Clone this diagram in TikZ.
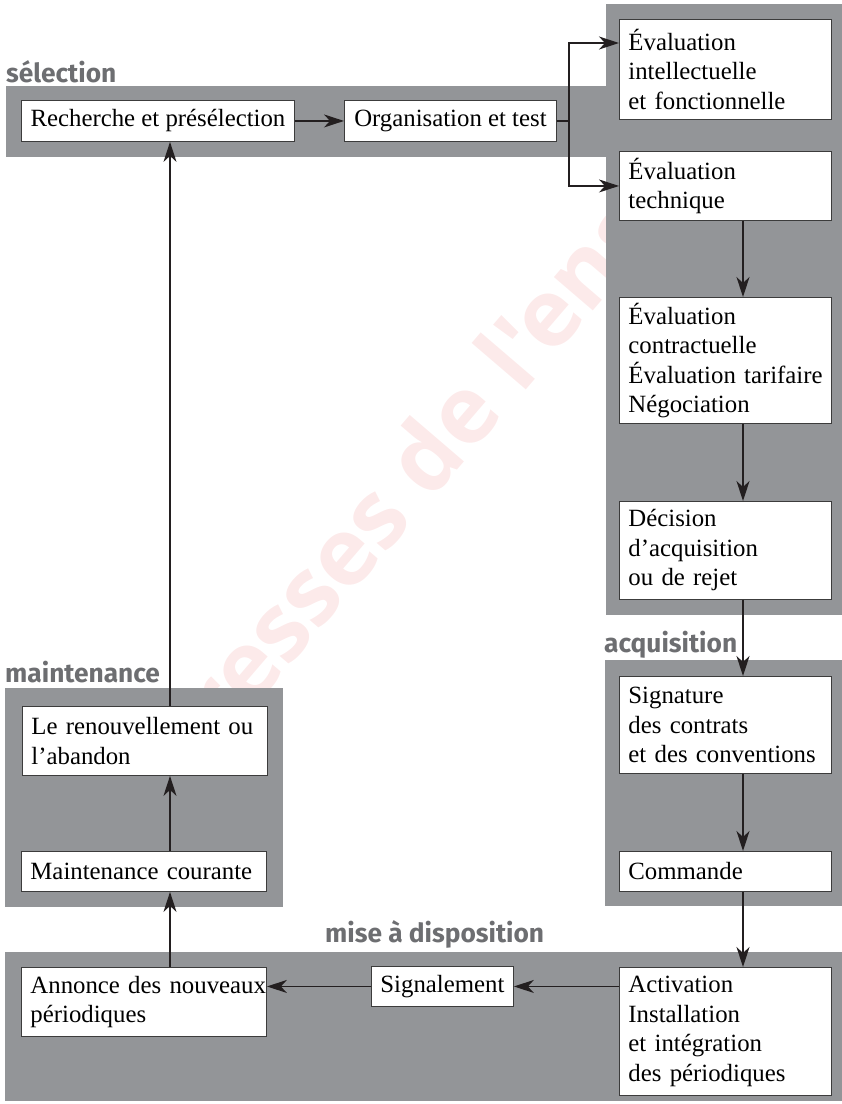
\documentclass[tikz,border=0pt]{standalone}
\usepackage{fontspec}
\setmainfont{Liberation Serif}
\newfontfamily\labelfont{Fira Sans}
\newfontfamily\wmfont{Open Sans}
\usetikzlibrary{arrows.meta}
\definecolor{bandgray}{RGB}{147,149,152}
\definecolor{labgray}{RGB}{109,110,113}
\definecolor{lineblk}{RGB}{35,31,32}
\definecolor{boxline}{RGB}{60,60,60}
\definecolor{wmpink}{RGB}{252,234,234}
\newcommand\oneline[1]{\mbox{#1}}
\tikzset{
  bx/.style={draw=boxline, fill=white, line width=0.9pt, inner xsep=9pt, inner ysep=0pt,
    anchor=north west, align=left, font=\fontsize{24.8}{29.5}\selectfont},
  wide/.style={text width=194pt, minimum width=212pt},
  wideleft/.style={text width=227pt, minimum width=245pt},
  lab/.style={anchor=base west, inner sep=0pt, text=labgray,
    font=\labelfont\bfseries\fontsize{26.3}{27}\selectfont},
  zone/.style={fill=bandgray, draw=none},
  arr/.style={draw=lineblk, line width=1.3pt, -{Stealth[length=20pt, width=13pt, inset=6pt]}},
}
\begin{document}
\begin{tikzpicture}[x=1pt,y=-1pt]
\useasboundingbox (0,0) rectangle (842,1104);
% watermark
\node[rotate=49.4, text=wmpink, inner sep=0pt,
  font=\wmfont\bfseries\fontsize{94}{94}\selectfont] (wm) at (440,436) {Presses de l'enssib};
% gray zones
\fill[zone] (6,86) rectangle (620,157);
\fill[zone] (606,4) rectangle (842,615);
\fill[zone] (605,660) rectangle (842,906);
\fill[zone] (5,688) rectangle (283,907);
\fill[zone] (5,952) rectangle (842,1101);
% labels
\node[lab] (lsel) at (6,82) {sélection};
\node[lab] (lmain) at (5,682) {maintenance};
\node[lab] (lacq) at (604,652) {acquisition};
\node[lab] (lmise) at (325,942) {mise à disposition};
% boxes
\node[bx, minimum width=273pt, minimum height=41pt] (rech) at (21,100) {Recherche et présélection};
\node[bx, minimum width=212pt, minimum height=41pt] (org) at (344,100) {Organisation et test};
\node[bx, wide, minimum height=100pt] (ev1) at (619,19) {Évaluation\\intellectuelle\\et fonctionnelle};
\node[bx, wide, minimum height=69pt] (ev2) at (619,151) {Évaluation\\technique};
\node[bx, wide, minimum height=126pt] (ev3) at (619,297) {Évaluation\\contractuelle\\\oneline{Évaluation tarifaire}\\Négociation};
\node[bx, wide, minimum height=98pt] (dec) at (619,501) {Décision\\d’acquisition\\ou de rejet};
\node[bx, wide, minimum height=97pt] (sig) at (619,676) {Signature\\des contrats\\\oneline{et des conventions}};
\node[bx, wide, minimum height=40pt] (cmd) at (619,851) {Commande};
\node[bx, wide, minimum height=128pt] (act) at (619,967) {Activation\\Installation\\et intégration\\des périodiques};
\node[bx, minimum width=137pt, minimum height=40pt] (sgn) at (371,966) {Signalement};
\node[bx, wideleft, minimum height=69pt] (ann) at (21,967) {\oneline{Annonce des nouveaux}\\périodiques};
\node[bx, wideleft, minimum height=40pt] (mc) at (21,851) {\oneline{Maintenance courante}};
\node[bx, wideleft, minimum height=69pt] (ren) at (22,706) {\oneline{Le renouvellement ou}\\l’abandon};
% helper coordinates
\coordinate (cx) at (743,0);
\coordinate (lx) at (170,0);
\coordinate (jx) at (569,0);
\coordinate (ya) at (0,43);
% connectors
\draw[arr] (rech) -- (org);
\draw[arr] (org.east) -| (jx |- ya) -- (ev1.west |- ya);
\draw[arr] (org.east -| jx) |- (ev2.west);
\draw[arr] (ev2.south -| cx) -- (ev3.north -| cx);
\draw[arr] (ev3.south -| cx) -- (dec.north -| cx);
\draw[arr] (dec.south -| cx) -- (sig.north -| cx);
\draw[arr] (sig.south -| cx) -- (cmd.north -| cx);
\draw[arr] (cmd.south -| cx) -- (act.north -| cx);
\draw[arr] (act.west |- sgn.east) -- (sgn.east);
\draw[arr] (sgn.west) -- (ann.east |- sgn.west);
\draw[arr] (ann.north -| lx) -- (mc.south -| lx);
\draw[arr] (mc.north -| lx) -- (ren.south -| lx);
\draw[arr] (ren.north -| lx) -- (rech.south -| lx);
\end{tikzpicture}
\end{document}
